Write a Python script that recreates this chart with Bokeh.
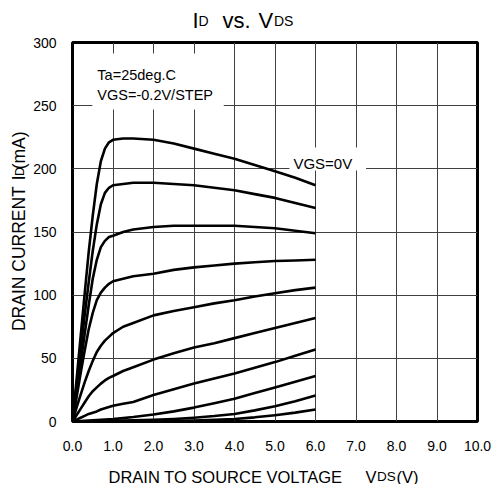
from math import pi
from bokeh.plotting import figure
from bokeh.layouts import column, row
from bokeh.models import Label, BoxAnnotation, FixedTicker, PrintfTickFormatter
from bokeh.embed import file_html
from bokeh.resources import INLINE

# ---- data ----
vds = [0, 0.1, 0.2, 0.3, 0.4, 0.5, 0.6, 0.7, 0.8, 0.9, 1.0, 1.25, 1.5,
       2.0, 2.5, 3.0, 3.5, 4.0, 4.5, 5.0, 5.5, 6.0]

id_vgs_0_0 = [0, 33, 67, 101, 134, 163, 188, 206, 216, 221, 223, 224, 224,
              223, 220, 216, 212, 208, 203, 198, 193, 187]
id_vgs_m0_2 = [0, 28, 56, 84, 110, 135, 156, 172, 181, 185, 187, 188, 189,
               189, 188, 187, 185, 183, 180, 177, 173, 169]
id_vgs_m0_4 = [0, 23, 46, 69, 92, 113, 128, 138, 143, 146, 147, 150, 152,
               154, 155, 155, 155, 155, 154, 153, 151, 149]
id_vgs_m0_6 = [0, 19, 38, 56, 73, 86, 96, 102, 106, 109, 111, 113, 115,
               117, 120, 122, 123.5, 125, 126, 127, 127.5, 128]
id_vgs_m0_8 = [0, 11, 21, 31, 40, 48, 55, 60, 64, 67, 70, 75, 78,
               84, 87.5, 90.5, 93.5, 96, 99, 101.5, 104, 106]
id_vgs_m1_0 = [0, 5, 10, 15, 20, 24, 27, 30, 32.5, 34.5, 36, 40, 43,
               49, 54, 58.5, 62, 66, 70, 74, 78, 82]
id_vgs_m1_2 = [0, 1.5, 3, 4.5, 6, 7, 8, 9.5, 10.5, 11.5, 12.5, 14, 15.5,
               21, 25.5, 30, 34, 38, 42.5, 47, 52, 57]
id_vgs_m1_4 = [0, 0.2, 0.4, 0.6, 0.8, 1.0, 1.2, 1.4, 1.6, 1.8, 2.0, 2.7, 3.5,
               5.5, 8, 11, 14.5, 18, 22.5, 27, 31.5, 36]
id_vgs_m1_6 = [0, 0.05, 0.1, 0.15, 0.2, 0.25, 0.3, 0.35, 0.4, 0.45, 0.5, 0.7, 0.9,
               1.3, 2, 3, 4.3, 6, 8.8, 12, 16, 20.5]
id_vgs_m1_8 = [0, 0, 0, 0, 0, 0.05, 0.05, 0.1, 0.1, 0.1, 0.15, 0.2, 0.2,
               0.3, 0.5, 0.8, 1.3, 2, 3.3, 5, 7, 9.5]

curves = [id_vgs_0_0, id_vgs_m0_2, id_vgs_m0_4, id_vgs_m0_6, id_vgs_m0_8,
          id_vgs_m1_0, id_vgs_m1_2, id_vgs_m1_4, id_vgs_m1_6, id_vgs_m1_8]

x_ticks = [0, 1, 2, 3, 4, 5, 6, 7, 8, 9, 10]
y_ticks = [0, 50, 100, 150, 200, 250, 300]

FONT = "Liberation Sans"
W, H = 493, 484
TITLE_H = 34
XLAB_H = 30
YLAB_W = 30
MAIN_H = H - TITLE_H - XLAB_H


def add_label(fig, x, y, text, size, angle=0.0, align="left",
              baseline="alphabetic"):
    fig.add_layout(Label(x=x, y=y, text=text, text_font=FONT,
                         text_font_size=size, text_color="black",
                         text_align=align, text_baseline=baseline,
                         angle=angle))


def text_panel(w, h):
    f = figure(width=w, height=h, x_range=(0, w), y_range=(0, h),
               x_axis_type=None, y_axis_type=None, output_backend="svg",
               toolbar_location=None, title=None,
               min_border_left=0, min_border_right=0,
               min_border_top=0, min_border_bottom=0)
    f.outline_line_color = None
    f.background_fill_color = "white"
    f.border_fill_color = "white"
    f.grid.visible = False
    return f


# ---- main chart ----
p = figure(width=W - YLAB_W, height=MAIN_H, x_range=(0, 10), y_range=(0, 300),
           output_backend="svg", toolbar_location=None, title=None,
           min_border_left=40, min_border_right=16, min_border_top=8,
           min_border_bottom=33)
p.background_fill_color = "white"
p.border_fill_color = "white"
p.outline_line_color = "black"
p.outline_line_width = 3

p.xaxis.ticker = FixedTicker(ticks=x_ticks)
p.yaxis.ticker = FixedTicker(ticks=y_ticks)
p.xaxis.formatter = PrintfTickFormatter(format="%.1f")
for ax in (p.xaxis, p.yaxis):
    ax.axis_line_color = None
    ax.major_tick_line_color = None
    ax.minor_tick_line_color = None
    ax.major_label_text_font = FONT
    ax.major_label_text_font_size = "14px"
    ax.major_label_text_color = "black"
p.xaxis.major_label_standoff = 13
p.yaxis.major_label_standoff = 10

p.xgrid.grid_line_color = "#404040"
p.ygrid.grid_line_color = "#404040"
p.xgrid.grid_line_width = 1
p.ygrid.grid_line_width = 1

for ys in curves:
    p.line(vds, ys, line_color="black", line_width=2.6, line_join="round")

p.add_layout(BoxAnnotation(left=0.49, right=3.735, bottom=247.0, top=291.3,
                           fill_color="white", fill_alpha=1, line_color=None))
p.add_layout(BoxAnnotation(left=5.356, right=7.248, bottom=198.7, top=216.9,
                           fill_color="white", fill_alpha=1, line_color=None))
add_label(p, 0.614, 273.9, "Ta=25deg.C", "14.5px")
add_label(p, 0.614, 258.1, "VGS=-0.2V/STEP", "14.5px")
add_label(p, 5.455, 204.2, "VGS=0V", "15px")

# ---- title panel:  I_D vs. V_DS ----
t = text_panel(W, TITLE_H)
add_label(t, 192, 14, "I", "22px")
add_label(t, 198, 14, "D", "14px")
add_label(t, 222, 14, "vs.", "22px")
add_label(t, 258, 14, "V", "22px")
add_label(t, 273.5, 14, "DS", "14px")

# ---- y label panel (rotated, centre-anchored) ----
yl = text_panel(YLAB_W, MAIN_H)
add_label(yl, 18, 180.5, "DRAIN CURRENT", "17.5px", pi / 2, "center", "middle")
add_label(yl, 18, 270.0, "I", "17.5px", pi / 2, "center", "middle")
add_label(yl, 19.5, 277.0, "D", "12.5px", pi / 2, "center", "middle")
add_label(yl, 18, 300.5, "(mA)", "17.5px", pi / 2, "center", "middle")

# ---- x label panel ----
xl = text_panel(W, XLAB_H)
add_label(xl, 108, 8, "DRAIN TO SOURCE VOLTAGE", "16.5px")
add_label(xl, 365, 8, "V", "16.5px")
add_label(xl, 376.5, 8, "DS", "13.5px")
add_label(xl, 396, 8, "(V)", "16.5px")

layout = column(t, row(yl, p), xl)
open("out.html", "w").write(file_html(layout, INLINE))
